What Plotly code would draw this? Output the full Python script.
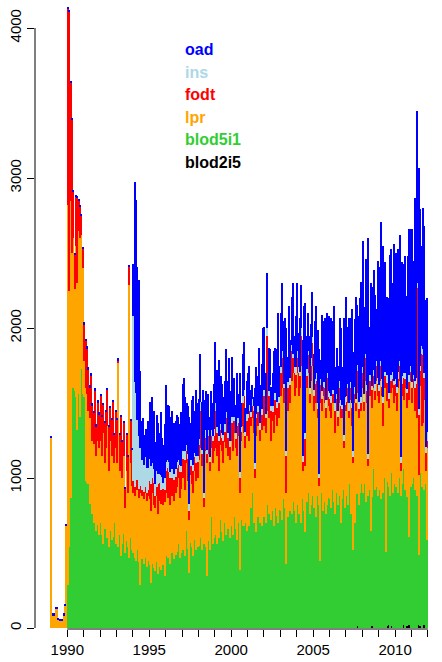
import plotly.graph_objects as go

# monthly series, Jan 1989 .. Dec 2011 (one row per year)
start_year = 1989
oad = [
    12, 12, 12, 12, 12, 12, 12, 12, 12, 12, 12, 12,  # 1989
    15, 15, 15, 15, 15, 15, 15, 15, 15, 15, 15, 15,  # 1990
    12, 12, 12, 12, 12, 12, 12, 12, 12, 12, 12, 12,  # 1991
    12, 12, 12, 12, 12, 12, 12, 12, 12, 12, 12, 12,  # 1992
    12, 12, 12, 12, 12, 12, 12, 12, 12, 12, 12, 12,  # 1993
    350, 1336, 1283, 1017, 1040, 513, 260, 220, 200, 190, 180, 310,  # 1994
    380, 320, 440, 390, 280, 370, 340, 270, 420, 260, 250, 360,  # 1995
    510, 370, 370, 370, 390, 260, 340, 320, 310, 290, 270, 360,  # 1996
    450, 480, 360, 280, 320, 580, 250, 350, 460, 280, 440, 350,  # 1997
    270, 320, 320, 250, 620, 260, 230, 240, 270, 260, 220, 300,  # 1998
    410, 380, 230, 510, 320, 330, 250, 290, 420, 350, 370, 330,  # 1999
    400, 110, 260, 190, 300, 160, 660, 160, 280, 320, 160, 220,  # 2000
    270, 260, 150, 90, 60, 500, 310, 200, 260, 250, 300, 320,  # 2001
    420, 270, 370, 290, 240, 130, 220, 270, 300, 350, 520, 210,  # 2002
    360, 450, 420, 300, 820, 170, 460, 250, 320, 470, 210, 340,  # 2003
    450, 230, 360, 290, 770, 370, 870, 220, 250, 350, 230, 300,  # 2004
    240, 390, 450, 490, 830, 130, 510, 410, 430, 470, 400, 500,  # 2005
    230, 520, 460, 510, 240, 310, 300, 420, 480, 250, 780, 460,  # 2006
    660, 380, 570, 430, 630, 660, 450, 680, 400, 570, 590, 770,  # 2007
    840, 580, 630, 610, 1440, 320, 470, 660, 670, 590, 350, 780,  # 2008
    790, 930, 430, 1010, 730, 300, 520, 630, 710, 840, 590, 910,  # 2009
    840, 580, 820, 840, 1160, 760, 730, 780, 620, 790, 970, 910,  # 2010
    1020, 760, 1220, 1200, 1150, 1610, 1050, 670, 940, 980, 980, 890,  # 2011
]
ins = [
    0, 0, 0, 0, 0, 0, 0, 0, 0, 0, 0, 0,  # 1989
    0, 0, 0, 0, 0, 0, 0, 0, 0, 0, 0, 0,  # 1990
    0, 0, 0, 0, 0, 0, 0, 0, 0, 0, 0, 0,  # 1991
    0, 0, 0, 0, 0, 0, 0, 0, 0, 0, 0, 0,  # 1992
    0, 0, 0, 0, 0, 0, 0, 0, 0, 0, 0, 0,  # 1993
    1100, 700, 570, 400, 350, 250, 200, 200, 180, 200, 170, 150,  # 1994
    150, 120, 100, 90, 80, 110, 70, 60, 100, 50, 40, 80,  # 1995
    60, 50, 70, 40, 60, 50, 40, 50, 40, 30, 50, 40,  # 1996
    50, 40, 60, 40, 30, 50, 40, 30, 40, 30, 50, 40,  # 1997
    40, 60, 30, 40, 30, 50, 30, 40, 30, 40, 30, 50,  # 1998
    50, 40, 50, 30, 40, 30, 40, 50, 40, 30, 50, 40,  # 1999
    40, 50, 30, 40, 50, 30, 40, 30, 50, 40, 30, 50,  # 2000
    30, 40, 30, 50, 30, 40, 30, 40, 30, 50, 40, 30,  # 2001
    40, 30, 50, 30, 40, 30, 40, 30, 50, 40, 30, 40,  # 2002
    40, 50, 30, 40, 30, 40, 30, 50, 40, 30, 40, 50,  # 2003
    50, 40, 30, 50, 40, 30, 40, 50, 30, 40, 50, 40,  # 2004
    40, 30, 50, 40, 30, 40, 50, 30, 40, 50, 30, 40,  # 2005
    40, 50, 30, 40, 50, 30, 40, 50, 40, 30, 40, 50,  # 2006
    40, 30, 50, 40, 30, 40, 50, 30, 40, 50, 30, 40,  # 2007
    40, 50, 30, 40, 30, 40, 50, 30, 40, 50, 30, 40,  # 2008
    40, 30, 50, 40, 30, 40, 50, 40, 30, 40, 50, 30,  # 2009
    30, 40, 50, 30, 40, 50, 30, 40, 30, 40, 50, 40,  # 2010
    40, 30, 50, 40, 30, 40, 30, 50, 40, 30, 40, 60,  # 2011
]
fodt = [
    0, 0, 0, 0, 0, 0, 0, 0, 0, 0, 0, 0,  # 1989
    1305, 1855, 785, 885, 305, 225, 325, 565, 195, 205, 125, 125,  # 1990
    245, 315, 305, 275, 205, 265, 235, 205, 285, 195, 255, 225,  # 1991
    300, 260, 190, 270, 240, 240, 290, 220, 240, 210, 190, 240,  # 1992
    290, 15, 240, 260, 240, 220, 130, 240, 240, 120, 280, 240,  # 1993
    80, 60, 50, 70, 60, 50, 40, 60, 50, 40, 50, 40,  # 1994
    120, 180, 100, 150, 80, 60, 200, 120, 90, 60, 110, 80,  # 1995
    150, 200, 90, 180, 120, 60, 140, 110, 130, 90, 170, 110,  # 1996
    130, 100, 200, 80, 150, 60, 60, 180, 150, 90, 120, 110,  # 1997
    100, 250, 80, 150, 60, 90, 60, 120, 60, 80, 150, 100,  # 1998
    250, 150, 60, 200, 100, 90, 150, 70, 200, 120, 130, 90,  # 1999
    120, 200, 80, 60, 200, 90, 100, 60, 150, 250, 80, 100,  # 2000
    100, 200, 60, 80, 150, 60, 120, 90, 200, 70, 100, 250,  # 2001
    200, 100, 500, 150, 80, 200, 60, 250, 100, 120, 70, 100,  # 2002
    150, 200, 100, 80, 250, 150, 60, 120, 200, 100, 150, 90,  # 2003
    100, 150, 80, 200, 60, 100, 180, 80, 120, 60, 100, 150,  # 2004
    100, 80, 150, 60, 50, 120, 80, 60, 100, 70, 150, 60,  # 2005
    80, 100, 60, 50, 150, 80, 60, 100, 80, 60, 50, 40,  # 2006
    60, 100, 50, 80, 120, 40, 60, 50, 150, 60, 80, 50,  # 2007
    100, 60, 150, 80, 50, 100, 60, 120, 80, 60, 100, 80,  # 2008
    80, 100, 60, 150, 80, 50, 120, 60, 100, 80, 60, 120,  # 2009
    80, 120, 60, 100, 50, 80, 150, 60, 100, 80, 120, 60,  # 2010
    100, 60, 150, 80, 870, 400, 100, 480, 450, 150, 120, 50,  # 2011
]
lpr = [
    1270, 85, 85, 130, 130, 55, 50, 50, 50, 85, 150, 680,  # 1989
    2530, 1710, 1980, 880, 1000, 680, 1010, 980, 1090, 1190, 890, 840,  # 1990
    240, 620, 590, 490, 570, 450, 490, 530, 570, 500, 560, 580,  # 1991
    550, 530, 740, 440, 480, 750, 510, 600, 560, 690, 400, 640,  # 1992
    500, 1230, 430, 670, 440, 520, 300, 470, 360, 1820, 500, 430,  # 1993
    400, 410, 500, 400, 430, 610, 420, 420, 430, 430, 440, 430,  # 1994
    440, 480, 470, 420, 420, 440, 400, 440, 440, 450, 400, 490,  # 1995
    420, 400, 430, 390, 380, 420, 390, 410, 430, 440, 400, 430,  # 1996
    480, 490, 440, 450, 450, 350, 450, 420, 420, 460, 460, 460,  # 1997
    570, 600, 560, 450, 250, 640, 750, 580, 530, 460, 540, 580,  # 1998
    580, 590, 570, 450, 500, 540, 520, 540, 580, 490, 510, 520,  # 1999
    570, 560, 560, 540, 560, 580, 510, 530, 670, 620, 500, 630,  # 2000
    570, 570, 550, 500, 600, 240, 640, 610, 560, 550, 640, 640,  # 2001
    610, 600, 630, 640, 570, 530, 600, 620, 620, 600, 780, 610,  # 2002
    770, 880, 640, 850, 470, 710, 780, 720, 890, 860, 770, 900,  # 2003
    880, 790, 700, 1050, 190, 870, 440, 760, 800, 740, 830, 870,  # 2004
    650, 690, 760, 520, 130, 1050, 550, 770, 660, 640, 700, 610,  # 2005
    590, 600, 580, 710, 540, 550, 530, 620, 700, 540, 280, 650,  # 2006
    570, 680, 440, 760, 450, 580, 800, 510, 670, 580, 600, 490,  # 2007
    700, 490, 810, 400, 200, 630, 1070, 590, 540, 600, 710, 670,  # 2008
    580, 790, 570, 450, 600, 1190, 540, 530, 770, 530, 700, 540,  # 2009
    610, 470, 700, 650, 170, 590, 460, 680, 590, 570, 910, 710,  # 2010
    540, 600, 530, 450, 520, 530, 580, 410, 350, 600, 90, 610,  # 2011
]
blod5i1 = [
    0, 0, 0, 0, 0, 0, 0, 0, 0, 0, 0, 0,  # 1989
    290, 540, 870, 1620, 1600, 1580, 1540, 1320, 1560, 1410, 1730, 1560,  # 1990
    1540, 980, 970, 960, 830, 970, 760, 700, 730, 650, 690, 620,  # 1991
    700, 620, 560, 660, 720, 600, 540, 650, 590, 610, 700, 560,  # 1992
    600, 540, 620, 480, 560, 630, 500, 580, 540, 470, 600, 520,  # 1993
    500, 470, 450, 520, 440, 290, 460, 500, 430, 470, 410, 450,  # 1994
    420, 300, 430, 400, 380, 440, 360, 410, 390, 450, 420, 350,  # 1995
    480, 470, 520, 430, 500, 540, 460, 490, 510, 560, 470, 500,  # 1996
    520, 560, 480, 650, 530, 370, 570, 540, 480, 590, 520, 540,  # 1997
    550, 600, 520, 700, 560, 540, 350, 580, 520, 740, 560, 600,  # 1998
    620, 560, 680, 600, 720, 640, 580, 700, 620, 660, 740, 600,  # 1999
    680, 620, 740, 660, 590, 700, 390, 720, 680, 680, 700, 650,  # 2000
    730, 680, 800, 900, 700, 760, 640, 740, 820, 700, 680, 760,  # 2001
    740, 700, 820, 760, 930, 720, 780, 680, 800, 750, 700, 790,  # 2002
    780, 720, 860, 800, 430, 740, 820, 780, 760, 840, 780, 700,  # 2003
    820, 760, 900, 700, 860, 780, 640, 840, 900, 760, 820, 880,  # 2004
    800, 860, 740, 880, 820, 450, 900, 780, 840, 760, 820, 870,  # 2005
    860, 800, 920, 840, 760, 900, 820, 880, 700, 860, 920, 800,  # 2006
    880, 820, 960, 760, 900, 520, 700, 940, 880, 820, 900, 960,  # 2007
    900, 960, 840, 1100, 880, 920, 630, 860, 1060, 900, 940, 880,  # 2008
    920, 860, 980, 900, 1000, 510, 960, 920, 880, 1020, 900, 960,  # 2009
    940, 980, 900, 1000, 880, 960, 1040, 920, 860, 980, 590, 940,  # 2010
    960, 1000, 920, 1100, 880, 470, 1020, 940, 1000, 900, 960, 590,  # 2011
]
blod2i5 = [
    0, 0, 0, 0, 0, 0, 0, 0, 0, 0, 0, 0,  # 1989
    0, 0, 0, 0, 0, 0, 0, 0, 0, 0, 0, 0,  # 1990
    0, 0, 0, 0, 0, 0, 0, 0, 0, 0, 0, 0,  # 1991
    0, 0, 0, 0, 0, 0, 0, 0, 0, 0, 0, 0,  # 1992
    0, 0, 0, 0, 0, 0, 0, 0, 0, 0, 0, 0,  # 1993
    0, 0, 0, 0, 0, 0, 0, 0, 0, 0, 0, 0,  # 1994
    0, 0, 0, 0, 0, 0, 0, 0, 0, 0, 0, 0,  # 1995
    0, 0, 0, 0, 0, 0, 0, 0, 0, 0, 0, 0,  # 1996
    0, 0, 0, 0, 0, 0, 0, 0, 0, 0, 0, 0,  # 1997
    0, 0, 0, 0, 0, 0, 0, 0, 0, 0, 0, 0,  # 1998
    0, 0, 0, 0, 0, 0, 0, 0, 0, 0, 0, 0,  # 1999
    0, 0, 0, 0, 0, 0, 0, 0, 0, 0, 0, 0,  # 2000
    0, 0, 0, 0, 0, 0, 0, 0, 0, 0, 0, 0,  # 2001
    0, 0, 0, 0, 0, 0, 0, 0, 0, 0, 0, 0,  # 2002
    0, 0, 0, 0, 0, 0, 0, 0, 0, 0, 0, 0,  # 2003
    0, 0, 0, 0, 0, 0, 0, 0, 0, 0, 0, 0,  # 2004
    0, 0, 0, 0, 0, 0, 0, 0, 0, 0, 0, 0,  # 2005
    0, 0, 0, 0, 0, 0, 0, 0, 0, 0, 0, 0,  # 2006
    0, 0, 0, 0, 0, 0, 0, 0, 15, 0, 0, 0,  # 2007
    0, 0, 0, 0, 0, 0, 20, 15, 0, 20, 0, 0,  # 2008
    0, 0, 0, 0, 0, 0, 15, 20, 0, 15, 0, 0,  # 2009
    0, 0, 0, 0, 0, 0, 20, 0, 15, 20, 20, 0,  # 2010
    0, 0, 0, 0, 0, 20, 15, 0, 20, 20, 0, 0,  # 2011
]

series_names = ["oad", "ins", "fodt", "lpr", "blod5i1", "blod2i5"]
series_colors = ["#0000FF", "#ADD8E6", "#FF0000", "#FFA500", "#32CD32", "#000000"]
year_ticks = list(range(1990, 2013))
y_ticks = [0, 1000, 2000, 3000, 4000]

n = len(oad)
x = [start_year + (i + 0.5) / 12 for i in range(n)]
values = {"oad": oad, "ins": ins, "fodt": fodt, "lpr": lpr,
          "blod5i1": blod5i1, "blod2i5": blod2i5}

FONT = "Liberation Sans, Arial, Helvetica, sans-serif"
fig = go.Figure()
# stack order: bottom first
for name, col in reversed(list(zip(series_names, series_colors))):
    fig.add_trace(go.Bar(x=x, y=values[name], width=1 / 12, name=name,
                         marker=dict(color=col, line=dict(width=0)),
                         showlegend=False))

W, H = 442, 662
L, R_, T, B = 35, 0, 0, 33
plot_h = H - T - B
px_per_unit = 0.15
y_min = -1 / px_per_unit
y_max = y_min + plot_h / px_per_unit
px_per_year = 16.39
x0 = start_year - (50.9 - L) / px_per_year
x1 = start_year + (W - R_ - 50.9) / px_per_year

fig.update_layout(
    width=W, height=H, margin=dict(l=L, r=R_, t=T, b=B, pad=0),
    barmode="stack", bargap=0, bargroupgap=0,
    paper_bgcolor="white", plot_bgcolor="white",
    font=dict(family=FONT, color="black", size=15),
    xaxis=dict(range=[x0, x1], tickvals=year_ticks,
               ticktext=[str(v) if v % 5 == 0 else "" for v in year_ticks],
               ticks="outside", ticklen=7, tickwidth=1, tickcolor="black",
               showgrid=False, zeroline=False, showline=False,
               tickfont=dict(size=15, family=FONT)),
    yaxis=dict(range=[y_min, y_max], tickvals=y_ticks,
               ticktext=[str(v) for v in y_ticks], tickangle=-90,
               ticks="outside", ticklen=7, tickwidth=1, tickcolor="black",
               showgrid=False, zeroline=False, showline=False,
               tickfont=dict(size=15, family=FONT)),
)
# axis lines spanning first to last tick, as in the original
fig.add_shape(type="line", xref="paper", yref="y", x0=0, x1=0,
              y0=y_ticks[0], y1=y_ticks[-1], line=dict(color="black", width=1))
fig.add_shape(type="line", xref="x", yref="paper", x0=year_ticks[0],
              x1=year_ticks[-1], y0=0, y1=0, line=dict(color="black", width=1))

# legend as coloured bold text
leg_x = (182.7 - L) / (W - L - R_)
for k, (name, col) in enumerate(zip(series_names, series_colors)):
    base = 55 + 22.6 * k
    yc = base - 5.5
    fig.add_annotation(text=f"<b>{name}</b>", xref="paper", yref="paper",
                       x=leg_x, y=1 - (yc - T) / plot_h, xanchor="left",
                       yanchor="middle", showarrow=False,
                       font=dict(size=16, color=col, family=FONT))

fig.write_html("out.html")
